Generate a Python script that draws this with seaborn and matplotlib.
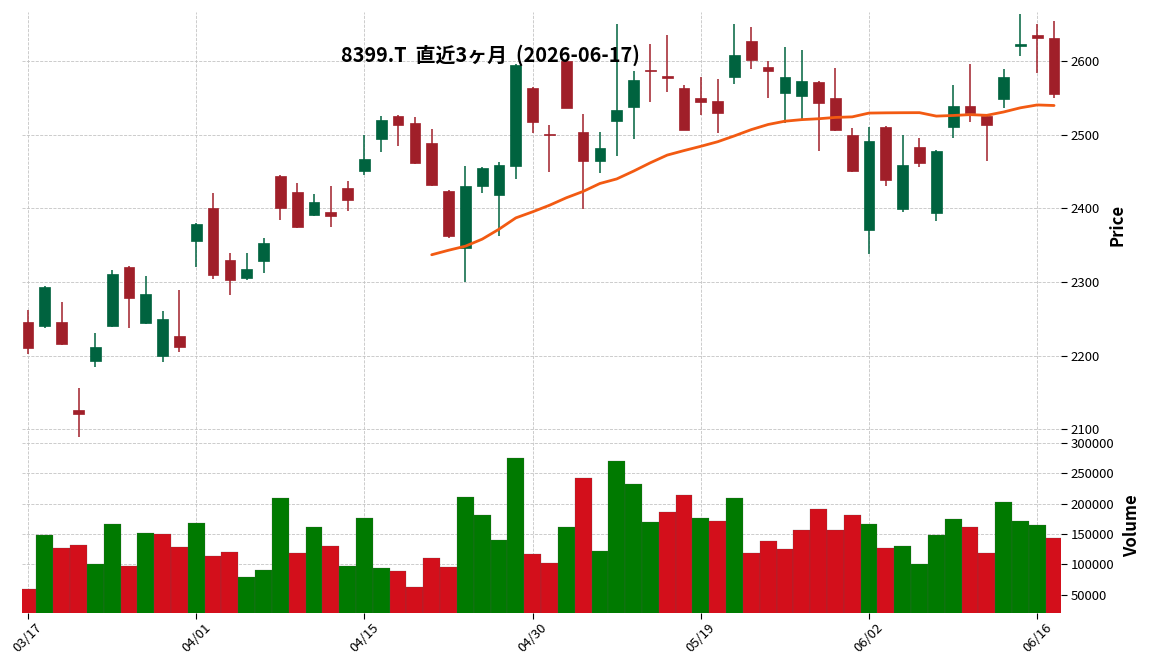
import numpy as np
import pandas as pd
import seaborn as sns
import matplotlib
matplotlib.use("Agg")
import matplotlib.pyplot as plt

# --- données ---
opens = [2246, 2240, 2245, 2126, 2193, 2240, 2321, 2244, 2200, 2227,
         2356, 2401, 2330, 2305, 2328, 2444, 2422, 2391, 2395, 2428,
         2451, 2494, 2526, 2516, 2489, 2424, 2346, 2431, 2418, 2458,
         2564, 2501, 2600, 2504, 2464, 2519, 2538, 2588, 2580, 2564,
         2550, 2546, 2578, 2628, 2592, 2557, 2552, 2572, 2550, 2500,
         2370, 2511, 2399, 2484, 2394, 2510, 2539, 2526, 2549, 2620,
         2636, 2631]
highs = [2262, 2294, 2273, 2156, 2230, 2316, 2322, 2308, 2260, 2289,
         2380, 2421, 2340, 2340, 2360, 2445, 2435, 2419, 2430, 2437,
         2500, 2525, 2527, 2524, 2508, 2425, 2458, 2456, 2463, 2596,
         2565, 2513, 2601, 2528, 2504, 2650, 2587, 2624, 2636, 2567,
         2578, 2576, 2650, 2646, 2600, 2619, 2615, 2573, 2591, 2509,
         2510, 2512, 2500, 2495, 2479, 2567, 2596, 2527, 2589, 2664,
         2650, 2654]
lows = [2202, 2237, 2215, 2089, 2185, 2239, 2237, 2243, 2191, 2205,
        2321, 2304, 2282, 2302, 2312, 2384, 2373, 2389, 2374, 2396,
        2445, 2477, 2485, 2460, 2431, 2360, 2300, 2421, 2362, 2440,
        2503, 2450, 2536, 2399, 2448, 2471, 2494, 2545, 2558, 2506,
        2527, 2502, 2569, 2590, 2550, 2516, 2522, 2478, 2505, 2450,
        2338, 2431, 2395, 2456, 2383, 2496, 2518, 2465, 2537, 2607,
        2584, 2550]
closes = [2210, 2293, 2216, 2121, 2211, 2311, 2278, 2283, 2249, 2212,
          2379, 2310, 2303, 2317, 2353, 2400, 2374, 2409, 2390, 2412,
          2467, 2520, 2513, 2461, 2432, 2363, 2431, 2455, 2459, 2595,
          2518, 2500, 2537, 2465, 2482, 2534, 2575, 2587, 2577, 2507,
          2545, 2529, 2609, 2602, 2586, 2579, 2573, 2543, 2506, 2451,
          2492, 2439, 2459, 2461, 2478, 2539, 2529, 2513, 2579, 2624,
          2631, 2556]
volumes = [59000, 148500, 127000, 132000, 100500, 166500, 98000, 152000, 150000, 128500,
           168500, 114000, 120500, 79000, 90500, 209500, 119000, 162000, 130500, 97500,
           176500, 94000, 89000, 62500, 110500, 95500, 211500, 181500, 140500, 276000,
           117000, 102500, 162000, 243000, 122000, 271000, 233000, 170000, 186500, 214500,
           176500, 171500, 209500, 119000, 138500, 125500, 157000, 191500, 157000, 181500,
           166500, 127000, 130500, 100500, 148500, 175000, 162000, 119000, 203000, 171500,
           165000, 143500]
tick_labels = ["03/17", "04/01", "04/15", "04/30", "05/19", "06/02", "06/16"]
tick_every = 10
mav = 25
title = "8399.T  直近3ヶ月  (2026-06-17)"

df = pd.DataFrame({"Open": opens, "High": highs, "Low": lows,
                   "Close": closes, "Volume": volumes})
df["idx"] = np.arange(len(df))
df["ma"] = df["Close"].rolling(mav).mean()

# couleurs
up_c, down_c = "#00633f", "#a01f29"
vup_c, vdown_c = "#007a00", "#d30f1b"

sns.set_theme(style="white")
plt.rcParams["font.family"] = ["Noto Sans CJK JP", "DejaVu Sans"]
plt.rcParams.update({"text.color": "black", "axes.labelcolor": "black",
                     "xtick.color": "black", "ytick.color": "black"})

fig = plt.figure(figsize=(11.52, 6.70), dpi=100)
ax = fig.add_axes([0.0191, 0.3463, 0.902, 0.636])
axv = fig.add_axes([0.0191, 0.0851, 0.902, 0.2612], sharex=ax)

# chandeliers
up = df["Close"] >= df["Open"]
ccolors = np.where(up, up_c, down_c)
ax.vlines(df["idx"], df["Low"], df["High"], colors=ccolors, lw=1.1, zorder=2)
body_bot = np.minimum(df["Open"], df["Close"])
body_h = np.maximum((df["Close"] - df["Open"]).abs(), 0.8)
ax.bar(df["idx"], body_h, bottom=body_bot, width=0.64, color=ccolors,
       edgecolor=ccolors, lw=0.5, zorder=3)

# moyenne mobile
ma = df.dropna(subset=["ma"])
sns.lineplot(x=ma["idx"], y=ma["ma"], ax=ax, color="#f25a12", lw=2, zorder=4)

# volume (couleur selon la clôture précédente)
prev = df["Close"].shift(1)
vup = (df["Close"] > prev).fillna(False)
vcolors = np.where(vup, vup_c, vdown_c)
axv.bar(df["idx"], df["Volume"], width=1.0, color=vcolors,
        edgecolor="#555555", lw=0.15, zorder=3)

# axes
n = len(df)
ax.set_xlim(-0.36, n - 1 + 0.42)
ax.set_ylim(2088, 2667)
axv.set_ylim(19800, 308500)

ax.set_yticks([2100, 2200, 2300, 2400, 2500, 2600])
axv.set_yticks([50000, 100000, 150000, 200000, 250000, 300000])
axv.ticklabel_format(axis="y", style="plain")
tick_pos = list(range(0, n, tick_every))
axv.set_xticks(tick_pos)
axv.set_xticklabels(tick_labels, rotation=45, ha="center", fontsize=9.5)

for a in (ax, axv):
    for s in a.spines.values():
        s.set_visible(False)
    a.yaxis.tick_right()
    a.yaxis.set_label_position("right")
    a.tick_params(axis="y", right=True, length=4, width=0.8, labelsize=9.5,
                  pad=3, colors="black")
    a.grid(True, linestyle="--", linewidth=0.6, color="#c4c4c4")
    a.set_axisbelow(True)
    a.set_xlabel("")

ax.tick_params(axis="x", bottom=False, labelbottom=False)
axv.tick_params(axis="x", bottom=True, length=4, width=0.8, pad=2)
ax.set_ylabel("Price", fontsize=12, fontweight="bold", labelpad=6)
axv.set_ylabel("Volume", fontsize=12, fontweight="bold", labelpad=6)

fig.text(0.426, 0.918, title, ha="center", va="center",
         fontsize=14.3, fontweight="bold", color="black")

fig.savefig("out.png", dpi=100)
